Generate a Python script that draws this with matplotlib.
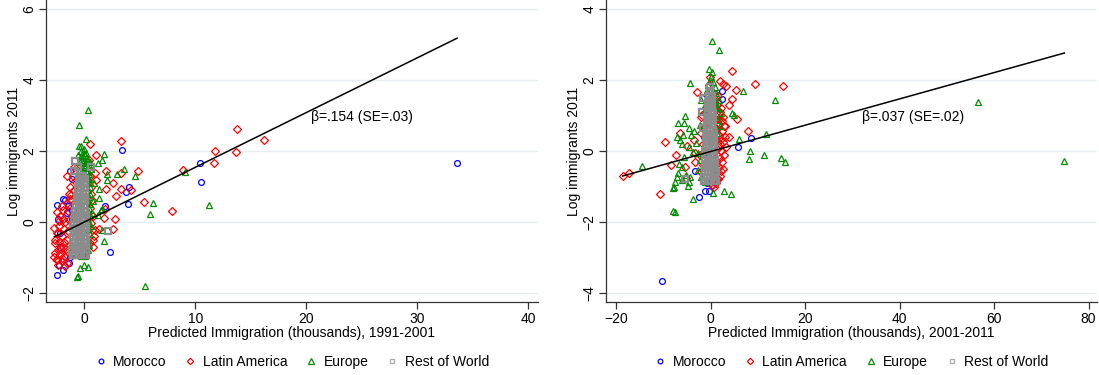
import numpy as np
import matplotlib
matplotlib.use('Agg')
import matplotlib.pyplot as plt

plt.rcParams['font.family'] = ['Liberation Sans', 'DejaVu Sans']
plt.rcParams['font.size'] = 10

# ---------------- 1991-2001 panel ----------------
mor91_x = [33.6, 10.4, 10.5, 3.4, 4.0, 3.8, 3.9, 2.3, 1.9, -2.5, -1.95, -1.5, -1.25, -1.1,
           -2.45, -1.95, -1.25, -1.4, -2.25, -2.35, -2.15, -2.2, -1.1, -1.6, -1.7, -1.15]
mor91_y = [1.67, 1.65, 1.13, 2.04, 0.98, 0.84, 0.51, -0.85, 0.44, 0.47, 0.66, 0.44, 1.43, 1.22,
           -1.48, -1.36, -0.99, -1.15, -1.2, 0.1, -0.31, -0.69, 0.1, 0.25, 0.62, 0.34]

lat91_x = [13.8, 16.2, 11.75, 13.65, 11.7, 8.9, 7.9, 5.4, 3.35, 4.85, 4.2, 3.35, 3.35, 2.85,
           2.8, 2.55, 2.6, 1.95, 2.0, 1.8, 1.9, 1.35, 1.05, 1.1, 0.95, 1.0, 0.5, 0.8, 0.7, 0.1,
           -1.6, -1.25, -2.5, -2.25, -2.7, -2.7, -2.65, -2.5, -2.35, -1.75, -2.05, -2.6, -2.35,
           -2.2, -2.05, -1.9, -1.75, -1.6, -1.1, -0.95, -0.8, -0.65, 0.45, 0.55, 0.65, 0.7, 0.8,
           0.6, 0.9, -2.6, -2.4, -2.2, -2.0, -1.8, -2.5, -2.3, -1.9, -1.6, -1.5, -2.0, -2.45,
           -1.7, -1.45, -1.4, -1.3, -1.2, -1.0, -0.9, -2.1, -1.85, -1.65, -2.3, -1.5, -1.35,
           -1.55, -1.9, 0.5, 0.6, 0.5, 0.75, 0.5, -0.7]
lat91_y = [2.63, 2.32, 2.01, 1.96, 1.65, 1.46, 0.31, 0.56, 2.27, 1.45, 0.91, 0.93, 1.38, 0.72,
           0.08, 1.11, -0.19, 1.45, 0.94, 0.11, 0.37, -0.19, 1.88, 1.19, 1.38, -0.22, 2.21, -0.5,
           -0.22, -0.83, 1.31, 0.65, 0.28, 0.02, -0.17, -0.97, -0.87, -1.06, -1.2, -1.25, -1.11,
           -0.5, -0.31, 0.16, 0.44, -0.69, -0.97, -1.15, 0.63, 0.91, 1.15, 0.25, 1.76, 1.57, 1.0,
           0.63, 0.16, -0.03, -0.4, -0.6, -0.8, -0.9, -0.4, -0.2, -0.3, -0.1, 0.1, -0.5, -0.85,
           -1.0, -1.05, 0.0, 0.3, 0.8, 1.0, 0.75, 1.3, 1.55, -0.75, -0.55, -0.75, -0.55, -0.25,
           0.05, 0.55, 0.35, 0.4, 0.8, 1.3, -0.7, -0.6, -0.85]

eur91_x = [0.32, -0.44, 0.16, 1.8, 1.64, 1.2, 3.54, 4.58, 2.99, 2.05, 2.05, 1.33, 1.33, 1.58,
           9.04, 6.22, 5.94, 11.25, 5.43, 1.8, 1.64, 0.38, -0.06, -0.38, -0.57, -0.7, -0.25,
           -0.06, -0.3, 0.0, 0.2, -0.1, 0.15, 0.35, -0.35, -0.15, 0.1, 0.3, -0.4, -0.2, 0.0,
           0.25, 0.45, -0.5, 0.15, 0.4, 0.3, 0.5, 0.35, 0.55, 0.4, 0.3, 0.55, 0.4, 0.3, 0.5,
           0.35, 0.45, 0.3, 0.5, 0.35, 0.4, 0.3, 0.1, -0.3, -0.6, -0.9, 0.6, 0.7, 0.8, 0.9,
           1.2, 1.5, 0.65, -0.6, -0.45, 0.55, -0.7, -0.8, -1.0,
           -0.1, 0.2, 0.05, 0.3, -0.25, 0.1, 0.35, 0.2]
eur91_y = [3.16, 2.73, 2.35, 1.92, 1.74, 1.66, 1.49, 1.31, 1.36, 1.36, 1.19, 0.93, 0.68, 0.37,
           1.4, 0.54, 0.23, 0.47, -1.81, -0.53, -0.22, -1.27, -1.2, -1.28, -1.53, -1.56, 2.13,
           1.94, 2.0, 2.05, 1.95, 1.85, 1.8, 1.75, 1.7, 1.65, 1.6, 1.55, 1.5, 1.45, 1.42, 1.4,
           1.35, 1.3, 1.28, 1.2, 1.1, 1.0, 0.9, 0.8, 0.7, 0.6, 0.5, 0.4, 0.3, 0.2, 0.1, -0.05,
           -0.2, -0.35, -0.5, -0.65, -0.8, -0.95, -0.95, -0.9, -0.85, -0.1, 0.25, 0.6, 1.1,
           0.2, 0.35, 1.5, 1.9, 2.15, 1.7, 1.1, 0.6, 0.2,
           1.75, 1.65, 1.55, 1.45, 1.85, 1.9, 1.25, 1.15]

row91_x = [-1.05, -0.8, -0.55, -0.3, -0.05, 0.15,
           -1.1, -0.85, -0.6, -0.35, -0.1, 0.15,
           -1.0, -0.75, -0.5, -0.25, 0.0, 0.2,
           -1.05, -0.8, -0.55, -0.3, -0.05, 0.15,
           -1.0, -0.75, -0.5, -0.25, 0.0, 0.2,
           -0.95, -0.7, -0.45, -0.2, 0.05,
           -1.0, -0.75, -0.5, -0.25, 0.0, 0.2,
           -0.9, -0.65, -0.4, -0.15, 0.1,
           -0.95, -0.7, -0.45, -0.2, 0.05,
           -0.85, -0.6, -0.35, -0.1, 0.15,
           -0.8, -0.55, -0.3, -0.05, 0.1,
           -0.75, -0.5, -0.25, 0.0,
           -0.7, -0.45, -0.2, 0.05,
           -0.65, -0.4, -0.15, 0.1,
           -0.6, -0.35, -0.1,
           -0.55, -0.3, -0.05, 0.1,
           -0.5, -0.25, 0.0,
           -0.45, -0.2, 0.05,
           -0.35, -0.1,
           -0.8, -0.6, -0.9, 0.6, 2.1]
row91_y = [-0.92] * 6 + [-0.8] * 6 + [-0.68] * 6 + [-0.55] * 6 + [-0.42] * 6 + [-0.3] * 5 \
          + [-0.18] * 6 + [-0.05] * 5 + [0.08] * 5 + [0.2] * 5 + [0.32] * 5 + [0.45] * 4 \
          + [0.58] * 4 + [0.7] * 4 + [0.82] * 3 + [0.95] * 4 + [1.08] * 3 + [1.2] * 3 \
          + [1.3] * 2 + [1.73, 1.55, 1.45, 1.55, -0.25]

# ---------------- 2001-2011 panel ----------------
mor01_x = [-10.3, 8.44, 5.85, -3.33, -2.59, -1.26, -0.37, -0.81, 0.22, 0.59, 2.44, 2.37,
           -1.78, -1.41, -0.52]
mor01_y = [-3.66, 0.36, 0.1, -0.55, -1.29, -1.12, -1.12, -0.89, -0.96, -0.86, 1.7, 1.46,
           1.48, 0.38, -0.07]

lat01_x = [-18.67, -17.26, -10.81, -9.78, -7.33, -8.44, -6.44, -5.48, -5.33, -4.96, -3.48,
           -2.89, -2.0, -3.33, -3.33, 4.52, 2.0, 3.19, 2.67, 9.33, 15.33, 5.41, 4.52, 3.93,
           5.48, 7.85, 3.78, 3.19, 2.96, 2.59, 2.07, -0.07, 0.22,
           1.0, 1.5, 2.0, 2.5, 1.2, 1.8, 2.4, 1.0, 1.6, 2.2, 1.3, 1.9, 2.5, 1.1, 1.7, 2.3,
           1.2, 1.8, 2.4, 1.0, 1.5, 2.0, 1.3, 0.8, 1.6, -0.3, 0.4, -1.0, -1.8, -1.5, -2.0,
           -1.7, -2.3, -1.6, -2.1, 0.6, 0.9, 2.8, 3.0, 2.7, 0.7, 0.7, 0.7, 0.9,
           1.4, 2.1, 1.2, 1.9, 1.5, 2.2, 1.1, 1.7]
lat01_y = [-0.69, -0.62, -1.22, 0.25, -0.11, -0.38, 0.52, -0.44, -0.77, 0.15, 0.31, 1.67,
           0.97, -0.07, -0.3, 2.26, 1.96, 1.83, 1.89, 1.89, 1.83, 1.72, 1.47, 1.3, 0.89, 0.57,
           0.38, 0.12, 0.69, 0.95, 1.2, 2.08, -0.96,
           -0.9, -0.8, -0.7, -0.5, -0.6, -0.45, -0.3, -0.3, -0.15, 0.0, 0.05, 0.2, 0.25, 0.3,
           0.45, 0.55, 0.6, 0.75, 0.85, 0.9, 1.0, 1.1, 1.3, 1.45, 1.55, 1.85, 1.6, 1.2, 1.0,
           0.7, 0.5, 0.2, -0.1, -0.4, -0.6, -1.0, -0.75, -0.1, 0.4, 0.7, -0.5, 0.0, 0.5, 1.2,
           -0.75, -0.55, -0.4, -0.2, 0.1, 0.35, 0.65, 0.9]

eur01_x = [0.22, 1.63, -0.3, 0.22, -4.44, 6.89, 13.56, 56.5, 74.9, -14.6, 11.7, 6.0, 8.22,
           8.15, 11.33, 14.81, 15.78, 4.44, 4.89, 2.74, 4.3, 0.37, -3.78, -4.74, -8.07, -7.56,
           -7.78, -5.41, -6.96, -5.7, -4.59, -3.48, -7.19, -6.44, -5.85, -4.22, -6.07, -4.59,
           -3.85, -5.7, -6.81, -6.07, -6.96, -5.33, -4.37, -4.59, -6.07, -7.19, -7.48, -7.93,
           -2.37, -2.0, -1.26, -0.89, 0.96, 1.11, 1.7, 1.33, 2.07, 1.56, 1.85, 1.33, 0.96,
           -3.11, -2.74, -2.37, -2.74, -2.0, -1.26, -0.15, 0.37, -0.52, 0.07,
           -0.5, 0.5, -1.2, 0.8, -0.8, 1.5]
eur01_y = [3.11, 2.85, 2.3, 2.23, 1.92, 1.7, 1.44, 1.38, -0.27, -0.41, 0.48, 0.33, 0.01,
           -0.22, -0.11, -0.2, -0.32, 1.08, 1.01, -1.13, -1.21, -1.17, -1.35, -0.98, -1.68,
           -1.72, -1.0, 0.99, 0.78, 0.78, 0.66, 0.57, 0.38, 0.31, 0.45, 0.45, 0.2, 0.12, -0.02,
           -0.16, -0.37, -0.44, -0.63, -0.68, -0.72, -0.86, -0.82, -0.72, -0.86, -1.05,
           0.73, 1.44, 1.15, 1.72, 1.81, 1.62, 1.44, 1.25, 1.06, 0.87, 0.69, 0.5, 0.31,
           0.22, -0.07, -0.25, -0.54, -0.72, -0.86, 2.0, 1.95, 1.86, 2.08,
           1.6, 1.7, 1.3, 1.4, 1.1, 1.2]

row01_x = [-1.2, -0.6, 0.0, 0.6, 1.0,
           -1.4, -0.8, -0.2, 0.4, 0.9,
           -1.2, -0.6, 0.0, 0.6, 1.0,
           -1.3, -0.7, -0.1, 0.5, 0.9,
           -1.2, -0.6, 0.0, 0.6,
           -1.3, -0.7, -0.1, 0.5, 0.9,
           -1.1, -0.5, 0.1, 0.7,
           -1.2, -0.6, 0.0, 0.6,
           -1.0, -0.4, 0.2, 0.7,
           -1.1, -0.5, 0.1, 0.6,
           -0.9, -0.3, 0.3,
           -1.0, -0.4, 0.2, 0.6,
           -0.8, -0.2, 0.4,
           -0.9, -0.3, 0.3,
           -0.7, -0.1, 0.4,
           -0.8, -0.2, 0.3,
           -0.6, 0.0, 0.4,
           -0.7, -0.1, 0.3,
           -0.5, 0.1,
           -0.4, 0.2,
           -0.3, 0.2,
           -0.2, -0.1,
           -1.6, -1.8, -1.6, -5.5, -1.5]
row01_y = [-0.85] * 5 + [-0.72] * 5 + [-0.6] * 5 + [-0.48] * 5 + [-0.36] * 4 + [-0.24] * 5 \
          + [-0.12] * 4 + [0.0] * 4 + [0.12] * 4 + [0.24] * 4 + [0.36] * 3 + [0.48] * 4 \
          + [0.6] * 3 + [0.72] * 3 + [0.84] * 3 + [0.96] * 3 + [1.08] * 3 + [1.2] * 3 \
          + [1.32] * 2 + [1.44] * 2 + [1.56] * 2 + [1.68, 1.8] + [1.5, 1.1, 0.65, -0.8, -0.85]

# fitted lines (intercept, slope) and labels
fit91 = (0.0, 0.154)
fit01 = (-0.013, 0.037)
note91 = 'β=.154 (SE=.03)'
note01 = 'β=.037 (SE=.02)'

groups = ['Morocco', 'Latin America', 'Europe', 'Rest of World']
colors = ['#0000ff', '#ff0000', '#008c00', '#8c8c8c']
markers = ['o', 'D', '^', 's']
msizes = [4.2, 4.0, 4.8, 4.0]
mews = [0.9, 0.9, 0.9, 1.6]

fig = plt.figure(figsize=(10.99, 3.75), dpi=100)
ax1 = fig.add_axes([46 / 1099, 73 / 375, 492 / 1099, 302 / 375])
ax2 = fig.add_axes([606 / 1099, 73 / 375, 491 / 1099, 302 / 375])

panels = [
    (ax1, [(mor91_x, mor91_y), (lat91_x, lat91_y), (eur91_x, eur91_y), (row91_x, row91_y)],
     fit91, note91, (20.4, 2.97), 'Predicted Immigration (thousands), 1991-2001',
     (-3.45, 40.9), (-2.25, 6.25), [0, 10, 20, 30, 40], [-2, 0, 2, 4, 6]),
    (ax2, [(mor01_x, mor01_y), (lat01_x, lat01_y), (eur01_x, eur01_y), (row01_x, row01_y)],
     fit01, note01, (32.1, 0.97), 'Predicted Immigration (thousands), 2001-2011',
     (-22.2, 81.8), (-4.25, 4.25), [-20, 0, 20, 40, 60, 80], [-4, -2, 0, 2, 4]),
]

for ax, series, fit, note, notepos, xlab, xl, yl, xt, yt in panels:
    for yv in yt:
        ax.axhline(yv, color='#e4edf0', lw=0.9, zorder=0)
    handles = []
    for (sx, sy), name, c, m, ms, mw in zip(series, groups, colors, markers, msizes, mews):
        ax.plot(sx, sy, linestyle='none', marker=m, ms=ms, mfc='none', mec=c, mew=mw,
                zorder=2)
        h, = ax.plot([], [], linestyle='none', marker=m, ms=ms * 0.8, mfc='none',
                     mec=c if name != 'Rest of World' else '#aaaaaa', mew=0.9, label=name)
        handles.append(h)
    allx = np.concatenate([np.asarray(s[0]) for s in series])
    xs = np.array([allx.min(), allx.max()])
    ax.plot(xs, fit[0] + fit[1] * xs, color='black', lw=1.1, zorder=3)
    ax.text(notepos[0], notepos[1], note, fontsize=10, va='center', ha='left', zorder=4)
    ax.set_xlim(*xl)
    ax.set_ylim(*yl)
    ax.set_xticks(xt)
    ax.set_yticks(yt)
    ax.tick_params(axis='both', direction='out', length=5, width=0.9, color='#333333',
                   labelsize=10, pad=2)
    for lab in ax.get_yticklabels():
        lab.set_rotation(90)
        lab.set_va('center')
    ax.spines['top'].set_visible(False)
    ax.spines['right'].set_visible(False)
    ax.spines['left'].set_linewidth(0.9)
    ax.spines['bottom'].set_linewidth(0.9)
    ax.spines['left'].set_color('#333333')
    ax.spines['bottom'].set_color('#333333')
    ax.set_xlabel(xlab, fontsize=10, labelpad=0)
    ax.set_ylabel('Log immigrants 2011', fontsize=10, labelpad=1)
    ax.legend(handles=handles, loc='center', bbox_to_anchor=(0.5, -0.199), ncol=4,
              frameon=False, fontsize=10, handlelength=0.8, handletextpad=0.5,
              columnspacing=1.3)

fig.savefig('out.png', dpi=100)
